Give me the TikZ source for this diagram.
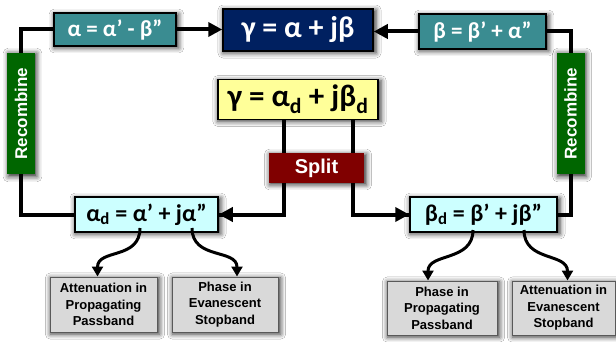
\documentclass[tikz,border=0pt]{standalone}
\usepackage{fontspec}
\setmainfont{Liberation Sans}
\newfontfamily\eqfont{Carlito}
\usetikzlibrary{arrows.meta, calc, backgrounds, shadows.blur}
\definecolor{navy}{HTML}{002060}
\definecolor{tealbx}{HTML}{3A8C91}
\definecolor{recgreen}{HTML}{006600}
\definecolor{splitred}{HTML}{800000}
\definecolor{pale}{HTML}{FFFF99}
\definecolor{icy}{HTML}{CCFFFF}
\definecolor{greybx}{HTML}{D9D9D9}
\newcommand{\dd}{\textsubscript{d}}
\tikzset{
  halo/.style = {blur shadow={shadow xshift=1.5pt, shadow yshift=-1.5pt,
    shadow blur radius=5pt, shadow opacity=80, shadow scale=1.02}},
  eq/.style = {draw=black, line width=1.5pt, inner sep=0pt,
    font=\eqfont\bfseries, halo},
  rec/.style = {fill=recgreen, text=white, rotate=90, inner sep=0pt,
    minimum width=121pt, minimum height=28pt,
    font=\bfseries\fontsize{17}{19}\selectfont, halo},
  gb/.style = {draw=black!65, line width=1pt, fill=greybx, inner sep=0pt,
    align=center, font=\bfseries\fontsize{13}{16.5}\selectfont, halo},
  ln/.style = {line width=4pt, line cap=rect},
  seta/.style = {ln, line cap=butt, -{Triangle[length=14pt, width=14pt]}},
  curv/.style = {line width=3pt, -{Triangle[length=10pt, width=11pt]}}
}

\begin{document}
\begin{tikzpicture}[x=1pt, y=-1pt]
  \useasboundingbox (0,0) rectangle (616,342);

  % top row
  \node [eq, fill=navy, text=white, minimum width=150pt, minimum height=42pt,
    font=\eqfont\bfseries\fontsize{30}{32}\selectfont] (gam) at (298,30)
    {γ = α + jβ};
  \node [eq, fill=tealbx, text=white, minimum width=122pt, minimum height=33pt,
    font=\eqfont\bfseries\fontsize{23}{26}\selectfont] (alp) at (115,29.5)
    {α = α’ - β”};
  \node [eq, fill=tealbx, text=white, minimum width=127pt, minimum height=35pt,
    font=\eqfont\bfseries\fontsize{23}{26}\selectfont] (bet) at (482.5,31.5)
    {β = β’ + α”};

  \node [rec] (recl) at (21,113.5) {Recombine};
  \node [rec] (recr) at (570.5,113.5) {Recombine};

  % middle
  \node [eq, fill=pale, minimum width=160pt, minimum height=40pt,
    font=\eqfont\bfseries\fontsize{31}{33}\selectfont] (gamd) at (298,99.5)
    {γ = α\dd{} + jβ\dd};
  \node [fill=splitred, text=white, inner sep=0pt, minimum width=95pt,
    minimum height=30pt, font=\bfseries\fontsize{20}{22}\selectfont, halo]
    (split) at (316.5,168) {Split};

  \node [eq, fill=icy, minimum width=143pt, minimum height=35pt,
    font=\eqfont\bfseries\fontsize{24}{26}\selectfont] (alpd) at (146.5,214.5)
    {α\dd{} = α’ + jα”};
  \node [eq, fill=icy, minimum width=147pt, minimum height=35pt,
    font=\eqfont\bfseries\fontsize{24}{26}\selectfont] (betd) at (483.5,214.5)
    {β\dd{} = β’ + jβ”};

  % bottom boxes
  \node [gb, minimum width=107pt, minimum height=55pt] (g1) at (103.5,304.5)
    {Attenuation in\\Propagating\\Passband};
  \node [gb, minimum width=106pt, minimum height=55pt] (g2) at (225,304.5)
    {Phase in\\Evanescent\\Stopband};
  \node [gb, minimum width=110pt, minimum height=54pt] (g3) at (442,308)
    {Phase in\\Propagating\\Passband};
  \node [gb, minimum width=103pt, minimum height=54pt] (g4) at (563.5,308)
    {Attenuation in\\Evanescent\\Stopband};

  \coordinate (sa) at (284,119);
  \coordinate (sb) at (353,119);
  \coordinate (a1) at (140,228);
  \coordinate (a2) at (192,228);
  \coordinate (b1) at (473,230);
  \coordinate (b2) at (524,230);

  \begin{scope}[on background layer]
    \fill [white] (0,0) rectangle (616,342);
    \draw [ln] (recl.east) |- (alp.west);
    \draw [ln] (recr.east) |- (bet.east);
    \draw [ln] (recl.west) |- (alpd.west);
    \draw [ln] (recr.west) |- (betd.east);
    \draw [ln] (sa) |- (alpd.east);
    \draw [ln] (sb) |- (betd.west);
  \end{scope}
  \draw [seta] (alp.east) -- (alp.east -| gam.west);
  \draw [seta] (bet.west) -- (bet.west -| gam.east);
  \draw [seta] ($(alpd.east)+(40,0)$) -- (alpd.east);
  \draw [seta] ($(betd.west)+(-40,0)$) -- (betd.west);

  % real and imaginary parts
  \draw [curv] (a1) .. controls +(0,32) and +(0,-28) .. ($(g1.north)+(-6,0)$);
  \draw [curv] (a2) .. controls +(0,32) and +(0,-28) .. ($(g2.north)+(12,0)$);
  \draw [curv] (b1) .. controls +(0,32) and +(0,-28) .. ($(g3.north)+(-14,0)$);
  \draw [curv] (b2) .. controls +(0,32) and +(0,-28) .. ($(g4.north)+(4,0)$);
\end{tikzpicture}
\end{document}
